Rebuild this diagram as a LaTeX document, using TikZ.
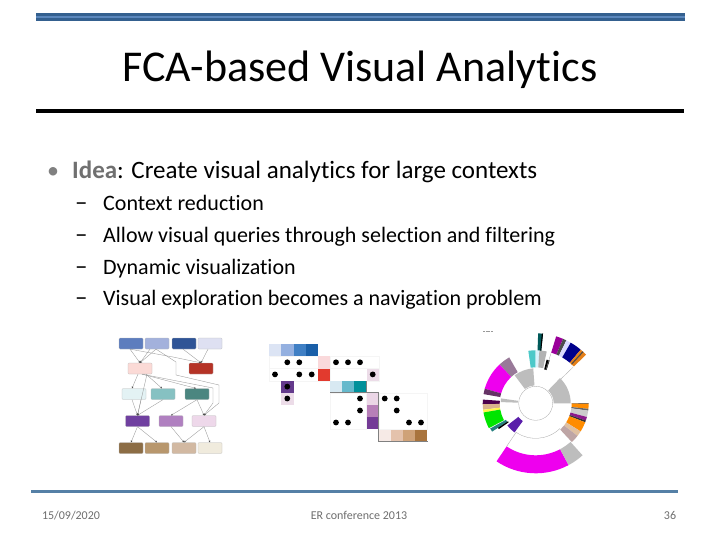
\documentclass[tikz,border=0pt]{standalone}
\usepackage{fontspec}
\setmainfont{Carlito}[Ligatures=NoCommon]
\usetikzlibrary{arrows.meta}
\definecolor{barblue}{HTML}{34608F}
\definecolor{barlight}{HTML}{5B87BC}
\definecolor{footblue}{HTML}{5580A6}
\definecolor{footgray}{HTML}{6E6E6E}
\definecolor{fuchsia}{HTML}{EE00EE}
\definecolor{wedgegray}{HTML}{BDBDBD}
\definecolor{wedgeviolet}{HTML}{5A1EAA}
\definecolor{wedgemauve}{HTML}{BEA5A5}
\definecolor{ideagray}{HTML}{707070}
\tikzset{
  gbox/.style={draw=gray!55,line width=0.3pt,rounded corners=1pt,minimum width=24pt,minimum height=11pt,inner sep=0pt},
  gedge/.style={draw=gray!80,line width=0.35pt,-{Stealth[length=2pt,width=1.8pt,color=black!70]}},
  slidetext/.style={anchor=base west,inner sep=0pt,text=black},
  foottext/.style={anchor=base,inner sep=0pt,text=footgray,font=\fontsize{12}{14}\selectfont},
  thinring/.style={draw=gray!70,line width=0.3pt}
}
\newcommand{\mdot}[2]{\fill[black] (#1,#2) circle (2.9pt);}
\newcommand{\mcell}[3]{\fill[fill=#3] (#1,#2) rectangle ++(12.1,12.1);}
\newcommand{\seg}[5]{\fill[#1] (#2:#4pt) arc[start angle=#2,end angle=#3,radius=#4pt] -- (#3:#5pt) arc[start angle=#3,end angle=#2,radius=#5pt] -- cycle;}
\begin{document}
\begin{tikzpicture}[x=1pt,y=-1pt]
      \useasboundingbox[fill=white] (0,0) rectangle (720,540);
      % slide frame
      \fill[barblue] (35.5,13) rectangle (684.5,21);
      \fill[barlight] (35.5,15.7) rectangle (684.5,18.3);
      \fill[black] (36,109.3) rectangle (684,112.7);
      \fill[footblue] (31,490) rectangle (678,493);
      % texts
      \node[anchor=base,inner sep=0pt] (title) at (360,81.5) {\fontsize{44}{48}\selectfont FCA-based Visual Analytics};
      \node[slidetext,text=gray] (bullet) at (47,179) {\fontsize{24}{28}\selectfont •};
      \node[slidetext] (idea) at (72,179) {\fontsize{25}{28}\selectfont \textcolor{ideagray}{\textbf{Idea}}: Create visual analytics for large contexts};
      \node[slidetext] (dasha) at (75,211) {\fontsize{25}{26}\selectfont –};
      \node[slidetext] (dashb) at (75,242.5) {\fontsize{25}{26}\selectfont –};
      \node[slidetext] (dashc) at (75,274.5) {\fontsize{25}{26}\selectfont –};
      \node[slidetext] (dashd) at (75,305.5) {\fontsize{25}{26}\selectfont –};
      \node[slidetext] (suba) at (103,211) {\fontsize{22}{26}\selectfont Context reduction};
      \node[slidetext] (subb) at (103,242.5) {\fontsize{22}{26}\selectfont Allow visual queries through selection and filtering};
      \node[slidetext] (subc) at (103,274.5) {\fontsize{22}{26}\selectfont Dynamic visualization};
      \node[slidetext] (subd) at (103,305.5) {\fontsize{22}{26}\selectfont Visual exploration becomes a navigation problem};
      \node[foottext] (date) at (71,519) {15/09/2020};
      \node[foottext] (conf) at (359,519) {ER conference 2013};
      \node[foottext] (page) at (670,519) {36};
      % graph
      \node[gbox,fill={rgb,255:red,93;green,125;blue,190}] (a1) at (131,343.5) {};
      \node[gbox,fill={rgb,255:red,163;green,177;blue,220}] (a2) at (157,343.5) {};
      \node[gbox,fill={rgb,255:red,47;green,84;blue,150}] (a3) at (184,343.5) {};
      \node[gbox,fill={rgb,255:red,222;green,224;blue,242}] (a4) at (210,343.5) {};
      \node[gbox,fill={rgb,255:red,251;green,218;blue,214}] (pk) at (140,368.5) {};
      \node[gbox,fill={rgb,255:red,181;green,51;blue,38}] (rd) at (201,368.5) {};
      \node[gbox,fill={rgb,255:red,227;green,242;blue,244}] (b1) at (134,394) {};
      \node[gbox,fill={rgb,255:red,134;green,193;blue,194}] (b2) at (163,394) {};
      \node[gbox,fill={rgb,255:red,75;green,134;blue,128}] (b3) at (197,394) {};
      \node[gbox,fill={rgb,255:red,112;green,64;blue,160}] (d1) at (137.5,421) {};
      \node[gbox,fill={rgb,255:red,176;green,128;blue,192}] (d2) at (171,421) {};
      \node[gbox,fill={rgb,255:red,238;green,216;blue,234}] (d3) at (204,421) {};
      \node[gbox,fill={rgb,255:red,140;green,109;blue,69}] (e1) at (131,448) {};
      \node[gbox,fill={rgb,255:red,184;green,151;blue,109}] (e2) at (157,448) {};
      \node[gbox,fill={rgb,255:red,210;green,185;blue,162}] (e3) at (184,448) {};
      \node[gbox,fill={rgb,255:red,240;green,235;blue,221}] (e4) at (210,448) {};
      \begin{scope}[gedge]
        \draw ([xshift=-1pt]a1.south) to (pk.north);
        \draw ([xshift=-7pt]a2.south) to (pk.north);
        \draw ([xshift=-1pt]a2.south) to (pk.north);
        \draw ([xshift=-1pt]a1.south) -- (173,357) -- (rd.north);
        \draw ([xshift=-1pt]a3.south) to (rd.north);
        \draw ([xshift=-2pt]a4.south) to (rd.north);
        \draw ([xshift=-1pt]a2.south) -- (176,362) -- (176,375) -- (219,385) -- (219,403) -- (d3.north);
        \draw ([xshift=2pt]pk.south) -- (213,388) -- (213,403) -- (d3.north);
        \draw ([xshift=-2pt]pk.south) to ([xshift=-2pt]b1.north);
        \draw ([xshift=6pt]pk.south) to ([xshift=-1pt]b2.north);
        \draw ([xshift=2pt]pk.south) to ([xshift=-1pt]b3.north);
        \draw ([xshift=7pt]pk.south) to (d1.north);
        \draw ([xshift=-2pt]b1.south) to (d1.north);
        \draw ([xshift=7pt]b1.south) to (d1.north);
        \draw (b2.south) to (d1.north);
        \draw (b3.south) to (d3.north);
        \draw (b3.south) to (d2.north);
        \draw (d1.south) to (e1.north);
        \draw (d1.south) to (e2.north);
        \draw (d2.south) to (e3.north);
        \draw (d3.south) to (e3.north);
        \draw (d3.south) to (e4.north);
      \end{scope}
      % matrix
      \begin{scope}[line width=0.2pt]
        \draw[gray!8] (269.3,356.4) rectangle (330,380.6);
        \draw[gray!8] (269.3,368.5) -- (330,368.5);
        \draw[gray!8] (330,356.4) rectangle (378.6,380.6);
        \draw[gray!8] (330,368.5) -- (378.6,368.5);
        \draw[gray!8] (330,392.7) rectangle (366.4,429);
        \draw[gray!8] (378.6,392.7) rectangle (427,429);
      \end{scope}
      \mcell{269.3}{344.3}{{rgb,255:red,220;green,228;blue,244}}
      \mcell{281.4}{344.3}{{rgb,255:red,148;green,176;blue,224}}
      \mcell{293.5}{344.3}{{rgb,255:red,63;green,127;blue,196}}
      \mcell{305.6}{344.3}{{rgb,255:red,26;green,95;blue,168}}
      \mcell{318}{356.4}{{rgb,255:red,250;green,217;blue,219}}
      \mcell{318}{368.5}{{rgb,255:red,226;green,58;blue,46}}
      \mcell{366.6}{368.5}{{rgb,255:red,236;green,220;blue,232}}
      \mcell{281.4}{380.6}{{rgb,255:red,100;green,58;blue,140}}
      \mcell{281.4}{392.7}{{rgb,255:red,236;green,220;blue,232}}
      \mcell{330}{380.6}{{rgb,255:red,216;green,233;blue,242}}
      \mcell{342.1}{380.6}{{rgb,255:red,102;green,185;blue,204}}
      \mcell{354.2}{380.6}{{rgb,255:red,0;green,144;blue,154}}
      \mcell{366.6}{392.7}{{rgb,255:red,235;green,214;blue,230}}
      \mcell{366.6}{404.8}{{rgb,255:red,183;green,127;blue,184}}
      \mcell{366.6}{416.9}{{rgb,255:red,116;green,59;blue,150}}
      \mcell{378.6}{429.6}{{rgb,255:red,246;green,234;blue,230}}
      \mcell{390.7}{429.6}{{rgb,255:red,228;green,194;blue,172}}
      \mcell{402.8}{429.6}{{rgb,255:red,207;green,162;blue,120}}
      \mcell{414.9}{429.6}{{rgb,255:red,169;green,116;blue,61}}
      \draw[gray,line width=0.8pt] (330,392.7) -- (378.6,392.7) -- (378.6,441.7) -- (427.5,441.7);
      \draw[gray,line width=0.8pt] (366.4,392.7) -- (366.4,380.6);
      \mdot{287.3}{362.3} \mdot{299.3}{362.3} \mdot{336}{362.3} \mdot{348}{362.3} \mdot{360}{362.3}
      \mdot{275}{374.4} \mdot{299.3}{374.4} \mdot{311.7}{374.4} \mdot{372.7}{374.4}
      \mdot{287.3}{386.6} \mdot{287.3}{398.5}
      \mdot{360}{398.5} \mdot{384.7}{398.5} \mdot{396.7}{398.5}
      \mdot{360}{410.5} \mdot{396.7}{410.5}
      \mdot{336}{422.5} \mdot{348}{422.5} \mdot{409}{422.5} \mdot{421}{422.5}
      % sunburst
      \draw[gray!80,line width=0.5pt,dash pattern=on 2pt off 0.6pt] (483,331) -- (493,331);
      \begin{scope}[shift={(535.7,403.3)}]
        \seg{wedgegray}{94}{127}{18}{35}
        \seg{wedgegray}{0}{46}{18}{35}
        \seg{wedgegray}{172}{178}{18}{35}
        % top
        \seg{teal!60!cyan!70}{90}{98}{36}{53}
        \seg{cyan!15}{86}{90}{36}{53}
        \seg{gray!60}{78}{86}{36}{53}
        \seg{black}{72}{76}{35}{45}
        \seg{teal!70!black}{84}{88}{53}{70}
        \seg{black}{84}{85}{53}{70}
        % top right
        \seg{violet!80!magenta}{67}{73}{53}{70}
        \seg{gray!60!black}{64}{67}{53}{70}
        \seg{blue!15}{60}{64}{53}{70}
        \seg{blue!55!black}{50}{60}{53}{70}
        \seg{orange!60!brown}{44}{50}{53}{70}
        \seg{black!70}{47}{48}{53}{70}
        % right
        \seg{orange!90!yellow}{-6}{0}{36}{53}
        \seg{black!70}{-0.6}{0}{36}{53}
        \seg{black!60}{-8}{-6}{36}{53}
        \seg{gray!40}{-15}{-8}{36}{53}
        \seg{violet!90}{-19}{-15}{36}{53}
        \seg{black!80}{-21}{-19}{36}{53}
        \seg{orange!90!yellow}{-32}{-21}{36}{53}
        \seg{brown!50}{-38}{-32}{36}{53}
        \seg{wedgemauve}{-47}{-38}{36}{53}
        % left
        \seg{violet!30!gray!80}{120}{133}{36}{53}
        \seg{fuchsia}{133}{164}{36}{53}
        \seg{violet!50!black!80}{164}{170}{36}{53}
        \seg{violet!60!black}{176}{181}{36}{53}
        \seg{brown!60}{181}{187}{36}{53}
        \seg{yellow!70}{187}{190}{36}{53}
        \seg{green!90!black}{190}{208}{36}{53}
        \seg{teal!70!gray}{209}{213}{34}{52}
        \seg{black}{213}{215}{33}{45}
        \seg{wedgeviolet}{218}{234}{22}{36}
        % bottom
        \seg{fuchsia}{236}{298}{52}{70}
        \seg{wedgegray}{298}{312}{52}{70}
        \draw[thinring] (0,0) circle (17pt);
        \draw[thinring] (-46:35pt) arc[start angle=-46,end angle=-124,radius=35pt];
        \draw[thinring] (44:35pt) -- (44:52pt);
        \draw[thinring] (236:35pt) -- (236:52pt);
        \draw[thinring] (73:35pt) -- (73:52pt);
      \end{scope}
    \end{tikzpicture}
\end{document}
